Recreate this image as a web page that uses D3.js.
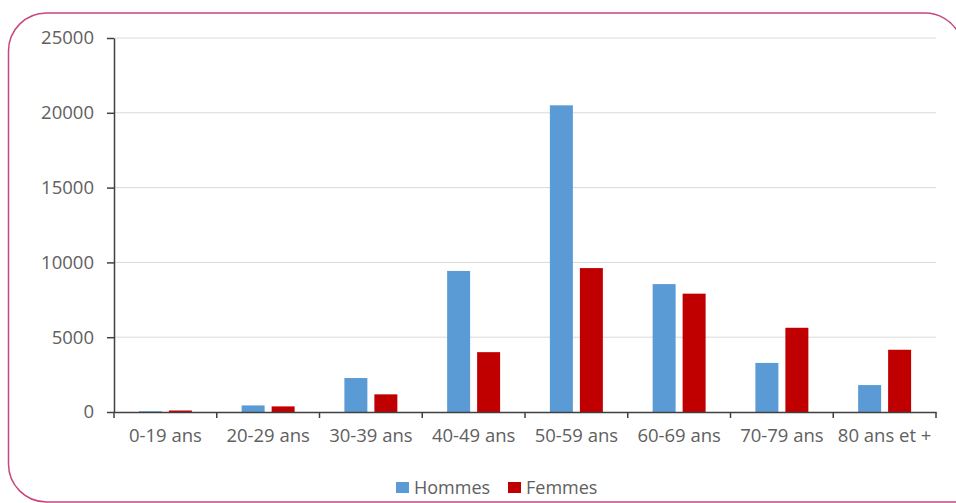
<!DOCTYPE html>
<html>
<head>
<meta charset="utf-8">
<script src="https://cdn.jsdelivr.net/npm/d3@7"></script>
<style>
	body { margin: 0; background: #fff; overflow: hidden; }
	svg { display: block; }
	.tick text { fill: #606060; font-family: "Open Sans", sans-serif; }
</style>
</head>
<body>
<svg id="chart" width="956" height="503"></svg>
<script>
const categories = ["0-19 ans", "20-29 ans", "30-39 ans", "40-49 ans", "50-59 ans", "60-69 ans", "70-79 ans", "80 ans et +"];
const series = ["Hommes", "Femmes"];
const hommes = [50, 440, 2270, 9430, 20500, 8550, 3280, 1800];
const femmes = [100, 375, 1180, 4000, 9620, 7910, 5630, 4160];
const yTicks = [0, 5000, 10000, 15000, 20000, 25000];
const colors = { Hommes: "#5b9bd5", Femmes: "#c00000" };

const svg = d3.select("svg#chart");

// frame: rounded on the left, top-right corner runs off the picture
const r = 38;
const fx = 8.5, fy = 13, fb = 502, fr = 963;
const frame = d3.path();
frame.moveTo(fr - r, fy);
frame.lineTo(fx + r, fy);
frame.arcTo(fx, fy, fx, fy + r, r);
frame.lineTo(fx, fb - r);
frame.arcTo(fx, fb, fx + r, fb, r);
frame.lineTo(956, fb);
svg.append("path")
	.attr("d", frame.toString())
	.attr("fill", "none")
	.attr("stroke", "#c8467f")
	.attr("stroke-width", 1.5);
// top-right corner arc, cut by the picture edge
const corner = d3.path();
corner.arc(fr - r, fy + r, r, -Math.PI / 2, -Math.PI / 6);
svg.append("path")
	.attr("d", corner.toString())
	.attr("fill", "none")
	.attr("stroke", "#c8467f")
	.attr("stroke-width", 1.5);

const plot = { left: 114, right: 936, top: 38, bottom: 412 };

const x0 = d3.scaleBand().domain(categories).range([plot.left, plot.right]);
const x1 = d3.scaleBand().domain(series).range([0, x0.bandwidth()])
	.paddingInner(7 / 30).paddingOuter(0.83);
const y = d3.scaleLinear().domain([0, 25000]).range([plot.bottom, plot.top]);

// gridlines
svg.append("g")
	.selectAll("line")
	.data(yTicks.filter((d) => d > 0))
	.join("line")
	.attr("x1", plot.left)
	.attr("x2", plot.right)
	.attr("y1", (d) => y(d))
	.attr("y2", (d) => y(d))
	.attr("stroke", "#d9d9d9")
	.attr("stroke-width", 1);

// bars
const rows = categories.map((c, i) => ({ cat: c, Hommes: hommes[i], Femmes: femmes[i] }));
svg.append("g")
	.selectAll("g")
	.data(rows)
	.join("g")
	.attr("transform", (d) => `translate(${x0(d.cat)},0)`)
	.selectAll("rect")
	.data((d) => series.map((s) => ({ key: s, value: d[s] })))
	.join("rect")
	.attr("x", (d) => x1(d.key))
	.attr("width", x1.bandwidth())
	.attr("y", (d) => y(d.value))
	.attr("height", (d) => y(0) - y(d.value))
	.attr("fill", (d) => colors[d.key]);

// y axis
const yAxis = svg.append("g")
	.attr("transform", `translate(${plot.left},0)`)
	.call(d3.axisLeft(y).tickValues(yTicks).tickFormat(d3.format("d")).tickSizeInner(7).tickSizeOuter(0).tickPadding(13));
yAxis.select(".domain").attr("stroke", "#404040").attr("stroke-width", 1.5);
yAxis.selectAll(".tick line").attr("stroke", "#404040").attr("stroke-width", 1.5);
yAxis.selectAll(".tick text").style("font-size", "18.5px");

// x axis
const xAxis = svg.append("g")
	.attr("transform", `translate(0,${plot.bottom})`)
	.call(d3.axisBottom(x0).tickSize(0).tickPadding(17));
xAxis.select(".domain").attr("stroke", "#404040").attr("stroke-width", 1.5);
xAxis.selectAll(".tick text").style("font-size", "18.5px");
// category boundary ticks
svg.append("g")
	.selectAll("line")
	.data(d3.range(categories.length + 1))
	.join("line")
	.attr("x1", (i) => plot.left + i * x0.step())
	.attr("x2", (i) => plot.left + i * x0.step())
	.attr("y1", plot.bottom)
	.attr("y2", plot.bottom + 6)
	.attr("stroke", "#404040")
	.attr("stroke-width", 1.5);

// legend
const legendItems = [
	{ key: "Hommes", x: 396 },
	{ key: "Femmes", x: 508 },
];
const legend = svg.append("g")
	.selectAll("g")
	.data(legendItems)
	.join("g")
	.attr("transform", (d) => `translate(${d.x},482)`);
legend.append("rect")
	.attr("width", 13)
	.attr("height", 11)
	.attr("fill", (d) => colors[d.key]);
legend.append("text")
	.attr("x", 18)
	.attr("y", 12)
	.text((d) => d.key)
	.style("font-family", "'Open Sans', sans-serif")
	.style("font-size", "18px")
	.attr("fill", "#606060");
</script>
</body>
</html>
